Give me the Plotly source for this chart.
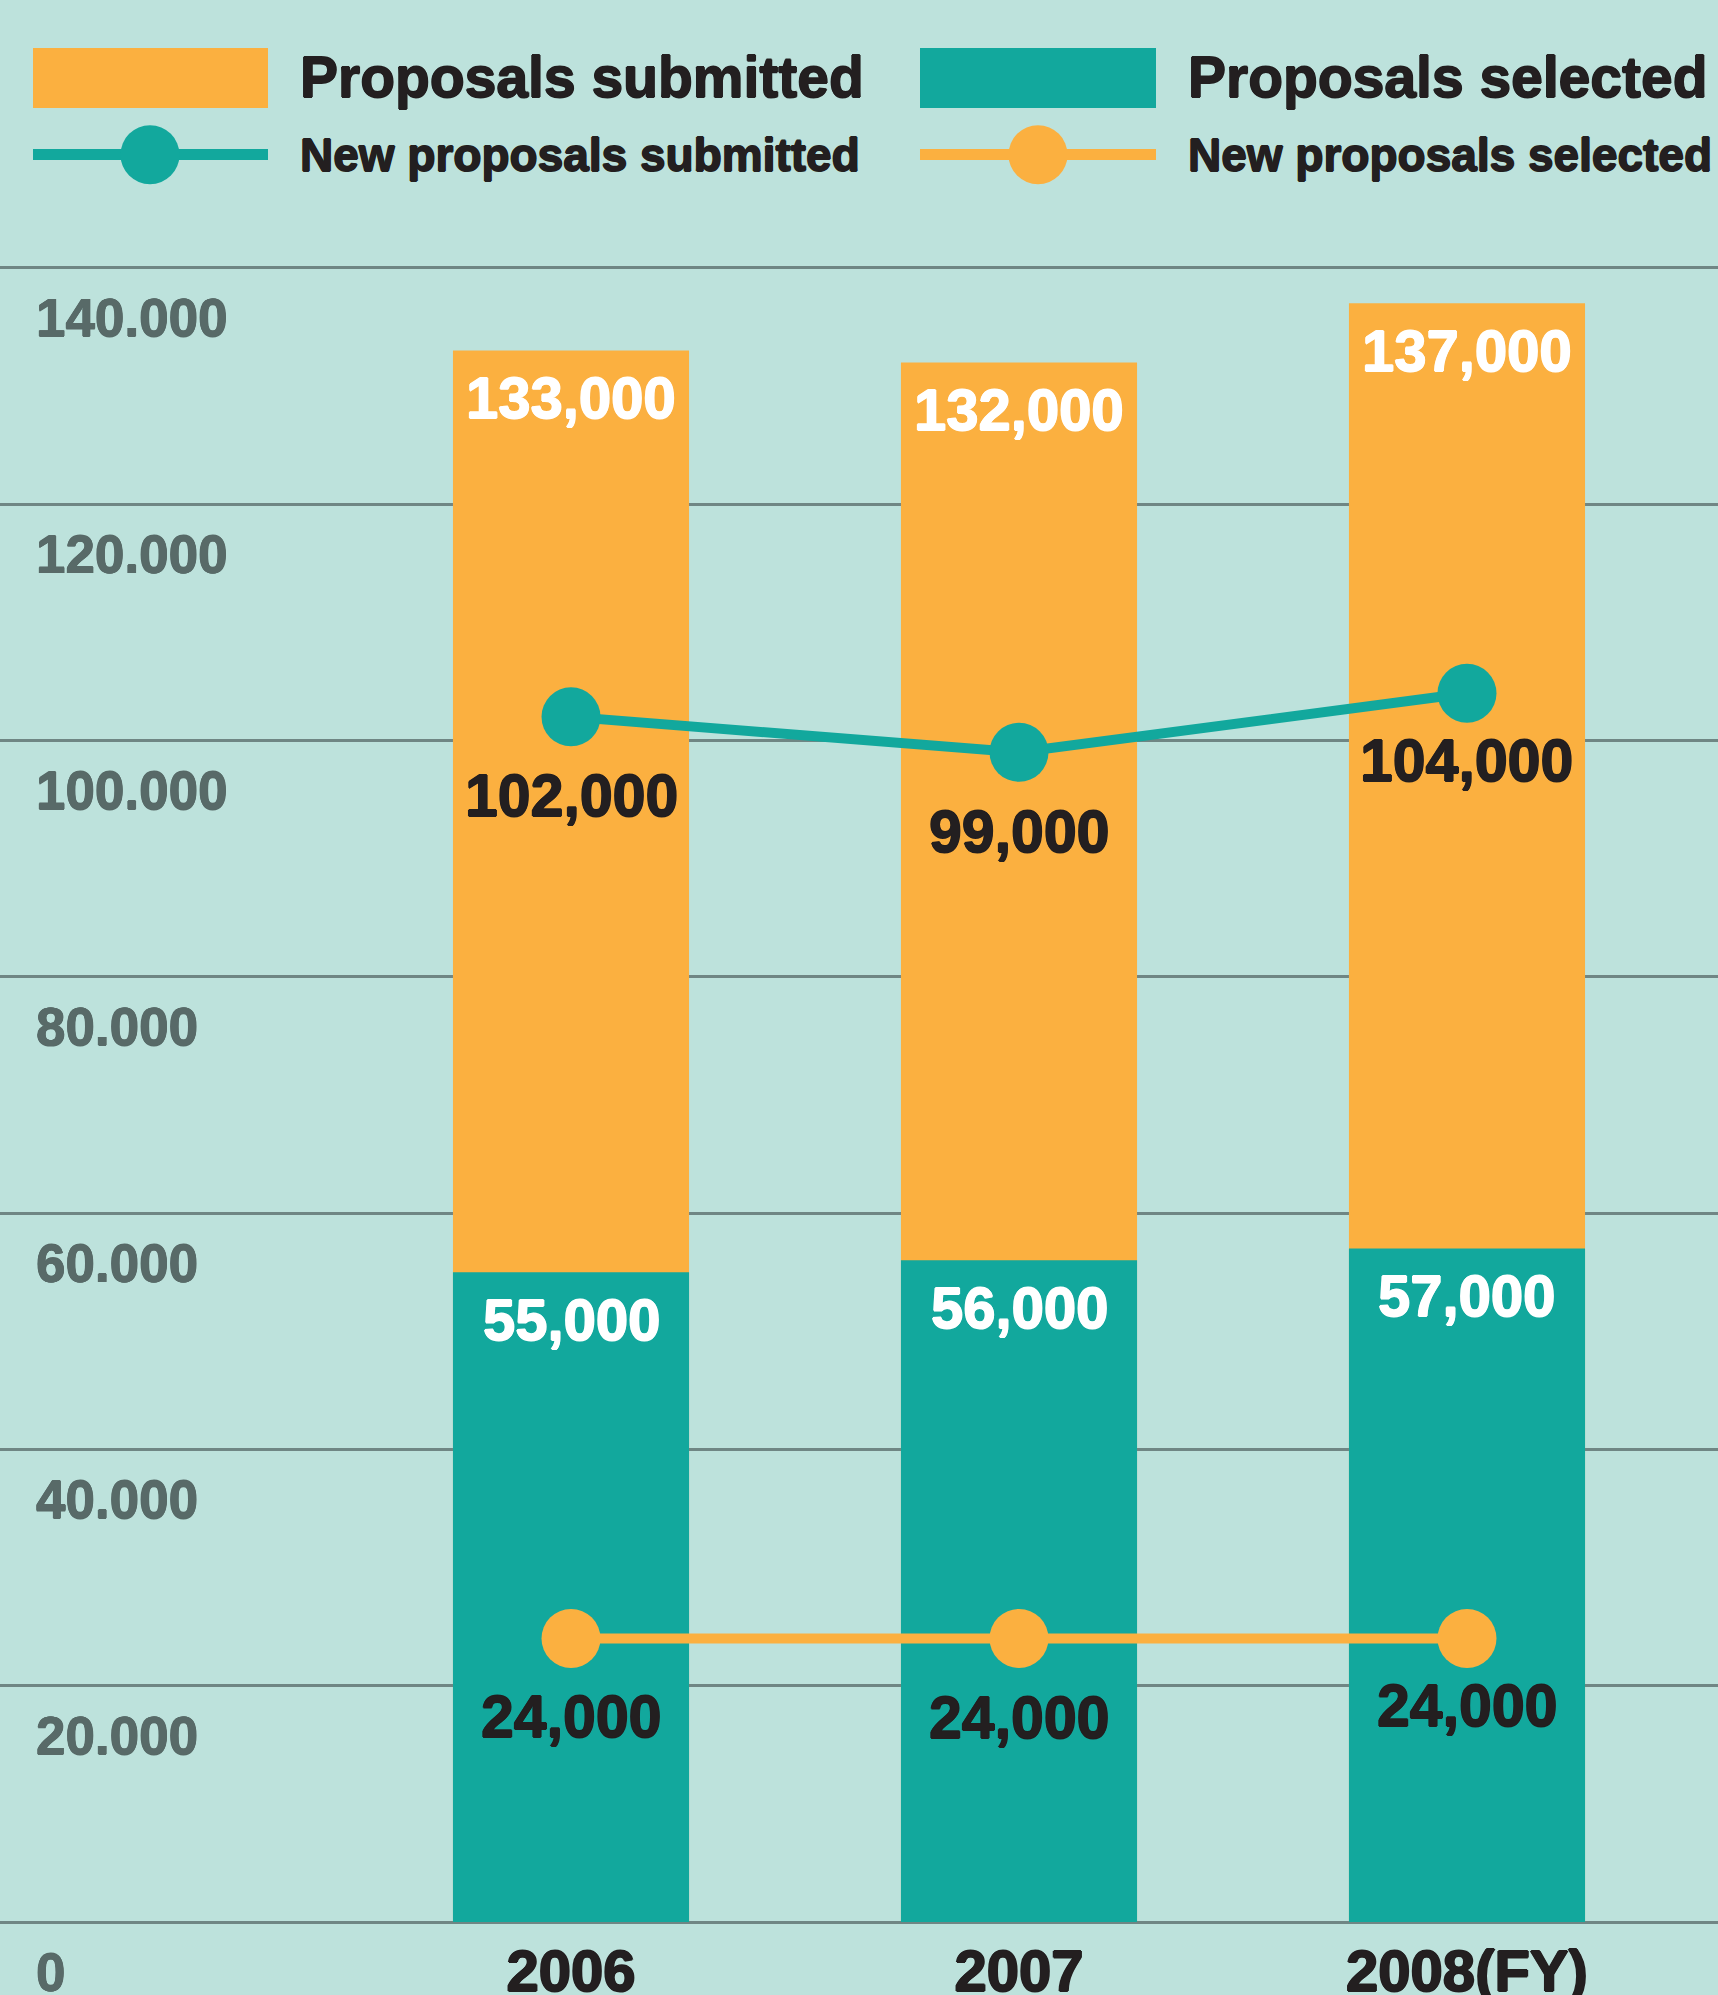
import plotly.graph_objects as go

# ---------------- data ----------------
years = ["2006", "2007", "2008(FY)"]
proposals_submitted = [133000, 132000, 137000]
proposals_selected = [55000, 56000, 57000]
new_submitted = [102000, 99000, 104000]
new_selected = [24000, 24000, 24000]
y_tick_values = [0, 20000, 40000, 60000, 80000, 100000, 120000, 140000]
y_tick_labels = ["0", "20.000", "40.000", "60.000", "80.000", "100.000", "120.000", "140.000"]
legend_names = ["Proposals submitted", "Proposals selected",
                "New proposals submitted", "New proposals selected"]

# ---------------- style ----------------
W, H = 1718, 1995
B = 1922                      # pixel row of the plot bottom (zero line)
ORANGE = "#fbb040"
TEAL = "#12a89d"
BG = "#bde2dc"
INK = "#231f20"
GREY = "#586a68"
GRID = "#6f8684"
FONT = "Liberation Sans, Arial, Helvetica, sans-serif"
BAR_LABEL_SHIFT = -47                 # px from bar top to label centre
LINE_LABEL_SHIFT = [-79, -80, -68]    # px from marker centre to label centre


def heavy(color, w=0.8):
    return f"{w}px 0 0 {color}, -{w}px 0 0 {color}, 0 {w}px 0 {color}, 0 -{w}px 0 {color}"


def fmt(v):
    return f"{v:,}"


def pxx(x):
    return x / W


def pyy(y):
    return (B - y) / B


fig = go.Figure()

fig.add_trace(go.Bar(
    x=years, y=proposals_submitted, name=legend_names[0],
    marker=dict(color=ORANGE, line=dict(width=0)), width=0.527,
    hoverinfo="skip",
))
fig.add_trace(go.Bar(
    x=years, y=proposals_selected, name=legend_names[1],
    marker=dict(color=TEAL, line=dict(width=0)), width=0.527,
    hoverinfo="skip",
))
fig.add_trace(go.Scatter(
    x=years, y=new_submitted, name=legend_names[2], mode="lines+markers",
    line=dict(color=TEAL, width=10), marker=dict(color=TEAL, size=59),
    cliponaxis=False, hoverinfo="skip",
))
fig.add_trace(go.Scatter(
    x=years, y=new_selected, name=legend_names[3], mode="lines+markers",
    line=dict(color=ORANGE, width=10), marker=dict(color=ORANGE, size=59),
    cliponaxis=False, hoverinfo="skip",
))

annotations = []
# value labels inside the tops of the bars (x given as category index)
for series in (proposals_submitted, proposals_selected):
    for i, v in enumerate(series):
        annotations.append(dict(
            x=i, y=v, xref="x", yref="y", text=fmt(v), showarrow=False,
            yanchor="middle", xanchor="center", yshift=BAR_LABEL_SHIFT,
            font=dict(family=FONT, size=58, color="white", weight=700,
                      shadow=heavy("white"))))
# value labels below the line markers
for series in (new_submitted, new_selected):
    for i, v in enumerate(series):
        annotations.append(dict(
            x=i, y=v, xref="x", yref="y", text=fmt(v), showarrow=False,
            yanchor="middle", xanchor="center", yshift=LINE_LABEL_SHIFT[i],
            font=dict(family=FONT, size=59, color=INK, weight=700,
                      shadow=heavy(INK))))

# ---------------- custom legend ----------------
shapes = []
cols = [(33, 268, 298, 150), (920, 1156, 1186, 1038)]
for i, (x0, x1, tx, cx) in enumerate(cols):
    color = ORANGE if i == 0 else TEAL
    shapes.append(dict(type="rect", xref="paper", yref="paper",
                       x0=pxx(x0), x1=pxx(x1), y0=pyy(108), y1=pyy(48),
                       fillcolor=color, line=dict(width=0)))
    annotations.append(dict(xref="paper", yref="paper", x=pxx(tx), y=pyy(77),
                            xanchor="left", yanchor="middle", showarrow=False,
                            text=legend_names[i],
                            font=dict(family=FONT, size=57, color=INK, weight=700,
                                      shadow=heavy(INK))))
    lcolor = TEAL if i == 0 else ORANGE
    shapes.append(dict(type="line", xref="paper", yref="paper",
                       x0=pxx(x0), x1=pxx(x1), y0=pyy(154.5), y1=pyy(154.5),
                       line=dict(color=lcolor, width=11)))
    shapes.append(dict(type="circle", xref="paper", yref="paper",
                       x0=pxx(cx - 29.5), x1=pxx(cx + 29.5),
                       y0=pyy(154.7 + 29.5), y1=pyy(154.7 - 29.5),
                       fillcolor=lcolor, line=dict(width=0)))
    annotations.append(dict(xref="paper", yref="paper", x=pxx(tx), y=pyy(155),
                            xanchor="left", yanchor="middle", showarrow=False,
                            text=legend_names[i + 2],
                            font=dict(family=FONT, size=46, color=INK, weight=700,
                                      shadow=heavy(INK))))

fig.update_layout(
    width=W, height=H,
    margin=dict(l=0, r=0, t=0, b=H - B, pad=0, autoexpand=False),
    paper_bgcolor=BG, plot_bgcolor=BG,
    barmode="overlay", showlegend=False,
    shapes=shapes, annotations=annotations,
    xaxis=dict(type="category", range=[-1.2746, 2.5603], showgrid=False,
               zeroline=False, showline=False, ticks="", automargin=False,
               tickfont=dict(family=FONT, size=58, color=INK, weight=700,
                             shadow=heavy(INK, 1.0)),
               ticklabelstandoff=10, fixedrange=True),
    yaxis=dict(range=[0, 162675], tickmode="array", tickvals=y_tick_values,
               ticktext=y_tick_labels, showgrid=True, gridcolor=GRID, gridwidth=2.5,
               zeroline=True, zerolinecolor=GRID, zerolinewidth=2.5,
               showline=False, ticks="", ticklabelposition="inside", automargin=False,
               ticklabelstandoff=33, ticklabelshift=50, ticklabeloverflow="allow",
               tickfont=dict(family=FONT, size=53, color=GREY, weight=700,
                             shadow=heavy(GREY, 0.6)),
               fixedrange=True),
)

fig.write_html("out.html", config={"displayModeBar": False},
               post_script="document.body.style.margin='0';")
